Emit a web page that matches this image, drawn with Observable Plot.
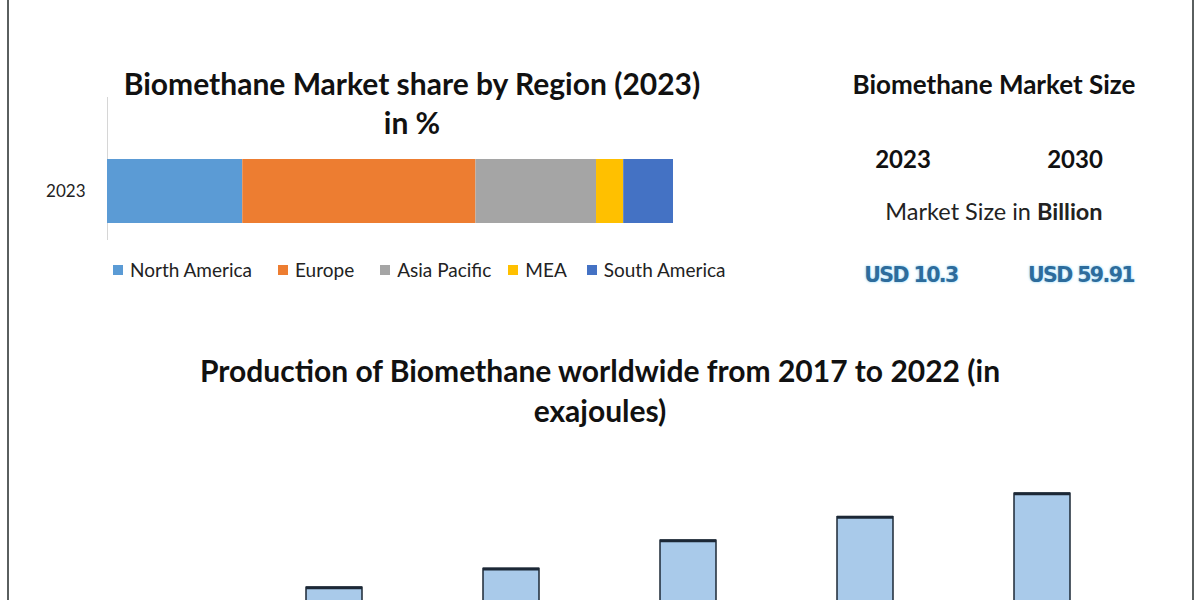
<!DOCTYPE html>
<html>
<head>
<meta charset="utf-8">
<script src="https://cdn.jsdelivr.net/npm/d3@7"></script>
<script src="https://cdn.jsdelivr.net/npm/@observablehq/plot@0.6"></script>
<style>
  html, body { margin: 0; padding: 0; background: #fff; }
  #page { position: relative; width: 1200px; height: 600px; overflow: hidden; background: #fff; font-family: Lato, "Open Sans", sans-serif; color: #111; }
  .frame { position: absolute; top: 0; width: 2px; height: 600px; background: #5a5f5f; }
  .t { position: absolute; transform: translate(-50%, -50%); white-space: nowrap; }
  .bold { font-weight: 700; }
  #legend { position: absolute; left: 113px; top: 258px; display: flex; align-items: center; font-size: 19px; color: #222; }
  #legend .item { display: flex; align-items: center; margin-right: 26px; }
  #legend .item:nth-child(3) { margin-right: 17px; }
  #legend .item:nth-child(4) { margin-right: 20px; }
  #legend .sw { width: 10px; height: 10px; margin-right: 7px; }
  .usd { color: #2d6c9c; font-family: "DejaVu Sans", sans-serif; font-weight: 700; font-size: 20.5px; letter-spacing: -1.6px; text-shadow: 0 0 3px #a8dcf7, 0 0 2px #c8ecfb; }
  svg { position: absolute; overflow: visible; }
</style>
</head>
<body>
<div id="page"></div>
<script>
// ---- Data ----
const shareYear = ["2023"];
const regions = ["North America", "Europe", "Asia Pacific", "MEA", "South America"];
const regionShare = [23.9, 41.2, 21.3, 4.8, 8.8];
const regionColors = ["#5b9bd5", "#ed7d31", "#a5a5a5", "#ffc000", "#4472c4"];

const sizeYears = ["2023", "2030"];
const sizeValues = ["USD 10.3", "USD 59.91"];

const prodYears = ["2017", "2018", "2019", "2020", "2021", "2022"];
const prodValues = [0.20, 0.22, 0.24, 0.27, 0.295, 0.32];

const title1 = ["Biomethane Market share by Region (2023)", "in %"];
const title2 = "Biomethane Market Size";
const sizeUnit = ["Market Size in ", "Billion"];
const title3 = ["Production of Biomethane worldwide from 2017 to 2022 (in", "exajoules)"];

// ---- Layout ----
const page = document.getElementById("page");
function addText(txt, x, y, size, cls) {
  const d = document.createElement("div");
  d.className = "t " + (cls || "");
  d.style.left = x + "px";
  d.style.top = y + "px";
  d.style.fontSize = size + "px";
  d.textContent = txt;
  page.appendChild(d);
  return d;
}

// frame lines
for (const x of [7, 1192]) {
  const f = document.createElement("div");
  f.className = "frame";
  f.style.left = x + "px";
  page.appendChild(f);
}

// Titles
addText(title1[0], 412, 83, 30, "bold");
addText(title1[1], 412, 122, 30, "bold");
addText(title2, 994, 84, 26, "bold");
sizeYears.forEach((y, i) => addText(y, [903, 1075][i], 158, 24, "bold"));
{
  const d = addText("", 994, 211, 23.5, "");
  d.style.color = "#222";
  d.append(sizeUnit[0]);
  const b = document.createElement("b");
  b.textContent = sizeUnit[1];
  d.appendChild(b);
}
sizeValues.forEach((v, i) => addText(v, [911, 1081][i], 275, 20.5, "usd"));
addText(title3[0], 600, 370, 30, "bold");
addText(title3[1], 600, 410, 30, "bold");

// ---- Stacked share bar ----
const shareData = regions.map((r, i) => ({year: shareYear[0], region: r, value: regionShare[i]}));
const sharePlot = Plot.plot({
  width: 760,
  height: 143,
  marginLeft: 107,
  marginRight: 87,
  marginTop: 0,
  marginBottom: 0,
  style: {fontFamily: "Lato, sans-serif", fontSize: "17px", color: "#222", background: "transparent"},
  x: {domain: [0, 100], axis: null},
  y: {domain: shareYear, range: [62, 126], padding: 0, label: null, tickSize: 0, tickPadding: 22},
  color: {domain: regions, range: regionColors},
  marks: [
    Plot.ruleX([0], {stroke: "#d6d6d6", strokeWidth: 1}),
    Plot.barX(shareData, Plot.stackX({x: "value", y: "year", fill: "region", order: regions}))
  ]
});
sharePlot.style.left = "0px";
sharePlot.style.top = "97px";
page.appendChild(sharePlot);

// legend
const legend = document.createElement("div");
legend.id = "legend";
regions.forEach((r, i) => {
  const it = document.createElement("div");
  it.className = "item";
  const sw = document.createElement("span");
  sw.className = "sw";
  sw.style.background = regionColors[i];
  it.appendChild(sw);
  it.append(r);
  legend.appendChild(it);
});
page.appendChild(legend);

// ---- Production bars ----
const prodData = prodYears.map((y, i) => ({year: y, value: prodValues[i]}));
const prodPlot = Plot.plot({
  width: 1200,
  height: 354,
  marginLeft: 8,
  marginRight: 10,
  marginTop: 0,
  marginBottom: 0,
  style: {background: "transparent"},
  x: {domain: prodYears, paddingInner: 0.6845, paddingOuter: 0.673, axis: null},
  y: {domain: [0, 354 / 940], axis: null},
  marks: [
    Plot.barY(prodData, {x: "year", y: "value", fill: "#a9caea", stroke: "#1c2836", strokeWidth: 1.5}),
    Plot.tickY(prodData, {x: "year", y: "value", stroke: "#1c2836", strokeWidth: 3})
  ]
});
prodPlot.style.left = "0px";
prodPlot.style.top = "440px";
page.appendChild(prodPlot);
</script>
</body>
</html>
